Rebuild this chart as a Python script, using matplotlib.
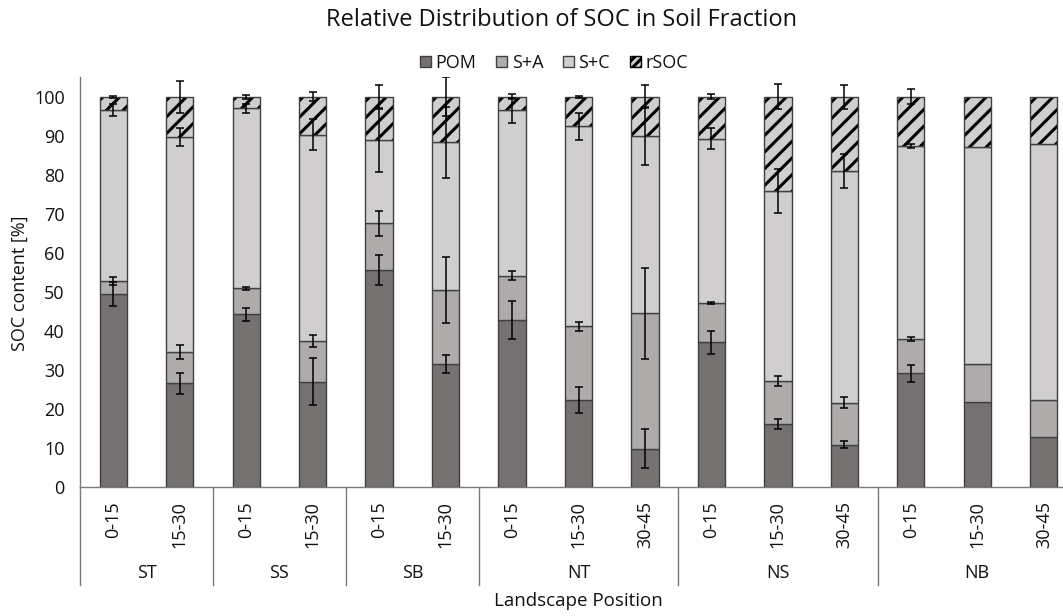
import numpy as np
import matplotlib
matplotlib.use("Agg")
import matplotlib.pyplot as plt
from matplotlib.patches import Patch
from matplotlib.transforms import blended_transform_factory

plt.rcParams['font.family'] = ['Open Sans', 'DejaVu Sans']
plt.rcParams['hatch.linewidth'] = 2.2

# Landscape positions and sampling depths (cm)
positions = ['ST', 'ST', 'SS', 'SS', 'SB', 'SB', 'NT', 'NT', 'NT',
             'NS', 'NS', 'NS', 'NB', 'NB', 'NB']
depths = ['0-15', '15-30', '0-15', '15-30', '0-15', '15-30', '0-15', '15-30', '30-45',
          '0-15', '15-30', '30-45', '0-15', '15-30', '30-45']

# Share of SOC in each fraction [%]
pom = [49.5, 26.6, 44.3, 27.0, 55.6, 31.6, 42.8, 22.4, 9.9, 37.1, 16.2, 10.9, 29.2, 21.8, 13.0]
s_a = [3.4, 8.0, 6.6, 10.5, 12.0, 18.9, 11.4, 18.8, 34.6, 10.1, 11.0, 10.8, 8.8, 9.8, 9.4]
s_c = [43.7, 55.0, 46.1, 52.8, 21.2, 37.8, 42.4, 51.2, 45.5, 42.1, 48.7, 59.3, 49.5, 55.5, 65.5]
rsoc = [3.4, 10.4, 3.0, 9.7, 11.2, 11.7, 3.4, 7.6, 10.0, 10.7, 24.1, 19.0, 12.5, 12.9, 12.1]

# Standard deviations
pom_sd = [3.0, 2.7, 1.6, 6.0, 3.9, 2.3, 4.9, 3.4, 5.0, 3.0, 1.4, 0.9, 2.2, 0, 0]
s_a_sd = [1.0, 1.8, 0.4, 1.5, 3.2, 8.4, 1.1, 1.2, 11.6, 0.3, 1.3, 1.3, 0.5, 0, 0]
s_c_sd = [1.5, 2.3, 1.2, 4.0, 8.1, 9.0, 3.2, 3.5, 7.4, 2.6, 5.7, 4.4, 0.5, 0, 0]
rsoc_sd = [0.3, 4.1, 0.5, 1.2, 3.0, 5.0, 0.6, 0.3, 3.0, 0.6, 3.2, 3.1, 1.9, 0, 0]

c_pom, c_sa, c_sc = '#767171', '#AFABAB', '#D0CECE'
edge = '#404040'
txt = '#111111'
axis_col = '#7a7a7a'

W, H = 1063, 616
fig = plt.figure(figsize=(W / 100, H / 100), dpi=100)
ax = fig.add_axes([80 / W, (H - 487.3) / H, (1077 - 80) / W, (487.3 - 77.2) / H])

x = np.arange(len(depths))
bw = 0.41
pom_a, sa_a, sc_a, rs_a = map(np.array, (pom, s_a, s_c, rsoc))
b1 = pom_a
b2 = b1 + sa_a
b3 = b2 + sc_a

ax.bar(x, pom_a, bw, color=c_pom, edgecolor=edge, linewidth=1.0, zorder=2)
ax.bar(x, sa_a, bw, bottom=b1, color=c_sa, edgecolor=edge, linewidth=1.0, zorder=2)
ax.bar(x, sc_a, bw, bottom=b2, color=c_sc, edgecolor=edge, linewidth=1.0, zorder=2)
ax.bar(x, rs_a, bw, bottom=b3, color=c_sc, edgecolor='black', hatch='//',
       linewidth=0, zorder=2)
ax.bar(x, rs_a, bw, bottom=b3, fill=False, edgecolor=edge, linewidth=1.0, zorder=2.1)

# Error bars at the cumulative top of each fraction
for tops, sd in ((b1, pom_sd), (b2, s_a_sd), (b3, s_c_sd), (b3 + rs_a, rsoc_sd)):
    sd = np.array(sd)
    m = sd > 0
    ax.errorbar(x[m], tops[m], yerr=sd[m], fmt='none', ecolor='black',
                elinewidth=1.1, capsize=3, capthick=1.1, zorder=4)

ax.set_xlim(-0.5, len(depths) - 0.5)
ax.set_ylim(0, 105)
ax.set_yticks(np.arange(0, 101, 10))
ax.tick_params(axis='y', length=0, pad=11, labelsize=13, labelcolor=txt)
ax.set_xticks(x)
ax.set_xticklabels(depths, rotation=90)
ax.tick_params(axis='x', length=0, pad=10, labelsize=13, labelcolor=txt)
for s in ('top', 'right'):
    ax.spines[s].set_visible(False)
for s in ('left', 'bottom'):
    ax.spines[s].set_color(axis_col)
    ax.spines[s].set_linewidth(1.0)

# Group separators and landscape-position labels below the depth labels
trans = blended_transform_factory(ax.transData, ax.transAxes)
groups = []
for i, p in enumerate(positions):
    if not groups or groups[-1][0] != p:
        groups.append([p, i, i])
    else:
        groups[-1][2] = i
bounds = [g[1] - 0.5 for g in groups] + [groups[-1][2] + 0.5]
for b in bounds:
    ax.plot([b, b], [0, -0.238], transform=trans, color=axis_col, lw=1.0, clip_on=False)
for p, i0, i1 in groups:
    ax.text((i0 + i1) / 2, -0.209, p, transform=trans, ha='center', va='center',
            fontsize=13, color=txt)

ax.text(0.5, -0.277, 'Landscape Position', transform=ax.transAxes, ha='center',
        va='center', fontsize=13.5, color=txt)
fig.text(20 / W, 1 - 283 / H, 'SOC content [%]', rotation=90, ha='center', va='center',
         fontsize=13, color=txt)
fig.text(561 / W, 1 - 20 / H, 'Relative Distribution of SOC in Soil Fraction',
         ha='center', va='center', fontsize=17, color=txt)

handles = [Patch(facecolor=c_pom, edgecolor=edge, label='POM'),
           Patch(facecolor=c_sa, edgecolor=edge, label='S+A'),
           Patch(facecolor=c_sc, edgecolor=edge, label='S+C'),
           Patch(facecolor=c_sc, edgecolor='black', hatch='////', label='rSOC')]
fig.legend(handles=handles, loc='center', bbox_to_anchor=(554 / W, 1 - 63 / H), ncol=4,
           frameon=False, fontsize=13, handlelength=0.6, handleheight=0.6,
           handletextpad=0.25, columnspacing=1.1, labelcolor=txt)

fig.savefig('out.png', dpi=100)
